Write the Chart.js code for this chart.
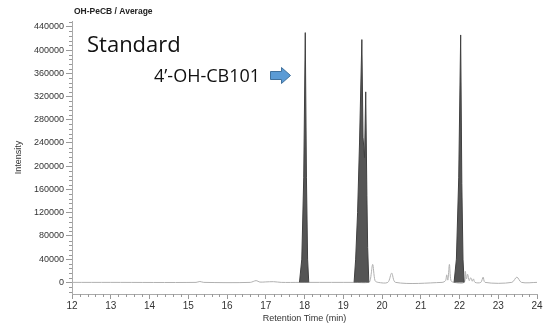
<!DOCTYPE html>
<html>
<head>
<meta charset="utf-8">
<script src="https://cdn.jsdelivr.net/npm/chart.js@4"></script>
<style>
  html, body { margin: 0; padding: 0; background: #fff; }
  #wrap { width: 544px; height: 325px; }
</style>
</head>
<body>
<div id="wrap"><canvas id="chromChart" width="544" height="325"></canvas></div>
<script>
// baseline trace (light grey line)
const traceTime = [12, 13, 15.2, 15.3, 15.4, 16.6, 16.75, 16.85, 17.0, 17.2, 17.4, 17.87, 18.11,
  19.28, 19.66, 19.7, 19.76, 19.82, 19.9, 20.15, 20.25, 20.35, 21.55, 21.64, 21.67, 21.7, 21.74,
  21.78, 21.86, 22.12, 22.15, 22.18, 22.21, 22.25, 22.29, 22.33, 22.36, 22.4, 22.55, 22.61, 22.66,
  23.35, 23.48, 23.6, 24];
const traceIntensity = [0, 0, 0, 1500, 0, 0, 3000, 500, 800, 1200, 0, 0, 0,
  0, 0, 5000, 31000, 3000, 0, 0, 16000, 0, 0, 3000, 13000, 4000, 31000,
  3000, 0, 0, 19000, 6000, 14000, 3000, 8000, 2000, 6000, 0, 0, 9000, 0,
  0, 9000, 0, 0];

// integrated peaks (dark filled), null separates the peaks
const peakTime = [17.87, 17.93, 17.98, 18.02, 18.05, 18.08, 18.11, 18.5,
  19.28, 19.32, 19.37, 19.42, 19.48, 19.51, 19.55, 19.58, 19.61, 19.63, 19.66, 20.5,
  21.86, 21.92, 21.98, 22.03, 22.06, 22.09, 22.12];
const peakIntensity = [0, 40000, 180000, 430000, 180000, 40000, 0, null,
  0, 40000, 120000, 240000, 418000, 250000, 215000, 328000, 150000, 60000, 0, null,
  0, 40000, 180000, 426000, 170000, 40000, 0];

const yTicks = [0, 40000, 80000, 120000, 160000, 200000, 240000, 280000, 320000, 360000, 400000, 440000];
const xTicks = [12, 13, 14, 15, 16, 17, 18, 19, 20, 21, 22, 23, 24];

const toPoints = (xs, ys) => xs.map((x, i) => ({ x: x, y: ys[i] }));

const extras = {
  id: 'extras',
  afterDraw(chart) {
    const ctx = chart.ctx;
    const xs = chart.scales.x, ys = chart.scales.y;
    const area = chart.chartArea;
    ctx.save();
    // minor ticks
    ctx.strokeStyle = '#999';
    ctx.lineWidth = 1;
    ctx.beginPath();
    for (let v = -16000; v <= 448000; v += 8000) {
      if (v % 40000 === 0) continue;
      const py = Math.round(ys.getPixelForValue(v)) + 0.5;
      ctx.moveTo(area.left - 3, py);
      ctx.lineTo(area.left, py);
    }
    for (let k = 0; k <= 60; k++) {
      if (k % 5 === 0) continue;
      const px = Math.round(xs.getPixelForValue(12 + k * 0.2)) + 0.5;
      ctx.moveTo(px, area.bottom);
      ctx.lineTo(px, area.bottom + 3);
    }
    ctx.stroke();

    // header
    ctx.fillStyle = '#222';
    ctx.font = 'bold 8.5px "Liberation Sans", Arial, sans-serif';
    ctx.textBaseline = 'middle';
    ctx.textAlign = 'left';
    ctx.fillText('OH-PeCB / Average', 74, 12);

    // annotations
    ctx.fillStyle = '#111';
    ctx.font = '22px "Open Sans", "Noto Sans", sans-serif';
    ctx.textBaseline = 'alphabetic';
    ctx.fillText('Standard', 87, 52);
    ctx.font = '18px "Open Sans", "Noto Sans", sans-serif';
    ctx.fillText('4\u2019-OH-CB101', 154, 82);

    // arrow
    ctx.fillStyle = '#5b9bd5';
    ctx.strokeStyle = '#41719c';
    ctx.lineWidth = 1;
    ctx.beginPath();
    ctx.moveTo(270.5, 71.5);
    ctx.lineTo(281.5, 71.5);
    ctx.lineTo(281.5, 67.5);
    ctx.lineTo(290.5, 75.5);
    ctx.lineTo(281.5, 83.5);
    ctx.lineTo(281.5, 79.5);
    ctx.lineTo(270.5, 79.5);
    ctx.closePath();
    ctx.fill();
    ctx.stroke();
    ctx.restore();
  }
};

new Chart(document.getElementById('chromChart'), {
  type: 'line',
  data: {
    datasets: [
      {
        label: 'Peaks',
        data: toPoints(peakTime, peakIntensity),
        borderColor: '#404040',
        borderWidth: 1,
        backgroundColor: '#555555',
        fill: 'origin',
        pointRadius: 0,
        tension: 0,
        spanGaps: false
      },
      {
        label: 'Trace',
        data: toPoints(traceTime, traceIntensity),
        borderColor: '#b0b0b0',
        borderWidth: 1,
        fill: false,
        pointRadius: 0,
        tension: 0.3
      }
    ]
  },
  options: {
    responsive: false,
    animation: false,
    layout: { padding: { top: 21, right: 7, left: 0, bottom: 0 } },
    plugins: {
      legend: { display: false },
      title: { display: false },
      tooltip: { enabled: false }
    },
    scales: {
      x: {
        type: 'linear',
        min: 12,
        max: 24,
        afterBuildTicks: s => { s.ticks = xTicks.map(v => ({ value: v })); },
        afterFit: s => { s.height = 31; },
        ticks: {
          padding: 1,
          color: '#333',
          font: { family: '"Liberation Sans", Arial, sans-serif', size: 10 },
          callback: v => String(v)
        },
        grid: { drawOnChartArea: false, tickLength: 5, color: '#999' },
        border: { color: '#aaa' },
        title: {
          display: true,
          text: 'Retention Time (min)',
          color: '#333',
          font: { family: '"Liberation Sans", Arial, sans-serif', size: 9 },
          padding: { top: 0, bottom: 1 }
        }
      },
      y: {
        min: -20000,
        max: 450000,
        afterBuildTicks: s => { s.ticks = yTicks.map(v => ({ value: v })); },
        afterFit: s => { s.width = 72; },
        ticks: {
          padding: 2,
          color: '#333',
          font: { family: '"Liberation Sans", Arial, sans-serif', size: 9 },
          callback: v => String(v)
        },
        grid: { drawOnChartArea: false, tickLength: 6, color: '#999' },
        border: { color: '#aaa' },
        title: {
          display: true,
          text: 'Intensity',
          color: '#333',
          font: { family: '"Liberation Sans", Arial, sans-serif', size: 9 },
          padding: { top: 13, bottom: 0 }
        }
      }
    }
  },
  plugins: [extras]
});
</script>
</body>
</html>
